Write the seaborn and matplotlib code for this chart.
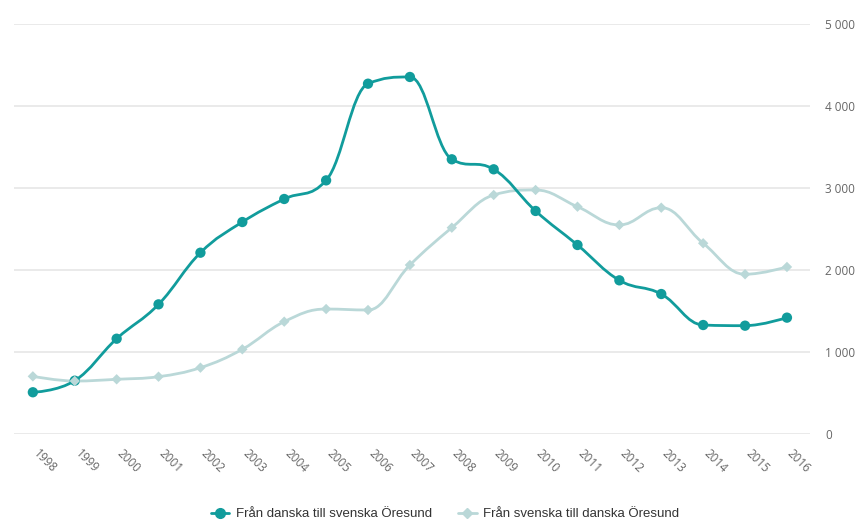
import numpy as np
import pandas as pd
import matplotlib
matplotlib.use("Agg")
import matplotlib.pyplot as plt
import matplotlib.transforms as mtransforms
import seaborn as sns
from matplotlib.path import Path
from matplotlib.patches import PathPatch
from matplotlib.lines import Line2D

years = list(range(1998, 2017))
dk_to_se = [509, 650, 1162, 1581, 2211, 2585, 2866, 3093, 4272, 4354,
            3350, 3228, 2720, 2305, 1874, 1707, 1329, 1321, 1419]
se_to_dk = [703, 646, 667, 699, 809, 1033, 1370, 1524, 1512, 2061,
            2516, 2915, 2976, 2772, 2549, 2760, 2326, 1948, 2037]
series_names = ["Från danska till svenska Öresund", "Från svenska till danska Öresund"]
yticks = [0, 1000, 2000, 3000, 4000, 5000]

TEAL = "#119c9c"
LIGHT = "#bad8d8"

sns.set_theme(style="white")
plt.rcParams['font.family'] = ['Open Sans', 'DejaVu Sans']

df = pd.DataFrame({"year": years * 2,
                   "value": dk_to_se + se_to_dk,
                   "series": [series_names[0]] * len(years) + [series_names[1]] * len(years)})

fig = plt.figure(figsize=(8.62, 5.26), dpi=100)
ax = fig.add_axes([14 / 862, 1 - 434 / 526, (810 - 14) / 862, (434 - 24) / 526])


def spline_path(xs, ys, smoothing=1.5):
    xs = np.asarray(xs, float)
    ys = np.asarray(ys, float)
    n = len(xs)
    denom = smoothing + 1
    rc = [None] * n
    lc = [None] * n
    for i in range(1, n - 1):
        px, py = xs[i], ys[i]
        lx, ly = xs[i - 1], ys[i - 1]
        nx, ny = xs[i + 1], ys[i + 1]
        lcx = (smoothing * px + lx) / denom
        lcy = (smoothing * py + ly) / denom
        rcx = (smoothing * px + nx) / denom
        rcy = (smoothing * py + ny) / denom
        corr = 0.0
        if rcx != lcx:
            corr = (rcy - lcy) * (rcx - px) / (rcx - lcx) + py - rcy
        lcy += corr
        rcy += corr
        if lcy > ly and lcy > py:
            lcy = max(ly, py); rcy = 2 * py - lcy
        elif lcy < ly and lcy < py:
            lcy = min(ly, py); rcy = 2 * py - lcy
        if rcy > ny and rcy > py:
            rcy = max(ny, py); lcy = 2 * py - rcy
        elif rcy < ny and rcy < py:
            rcy = min(ny, py); lcy = 2 * py - rcy
        lc[i] = (lcx, lcy)
        rc[i] = (rcx, rcy)
    verts = [(xs[0], ys[0])]
    codes = [Path.MOVETO]
    for i in range(1, n):
        c1 = rc[i - 1] if rc[i - 1] is not None else (xs[i - 1], ys[i - 1])
        c2 = lc[i] if lc[i] is not None else (xs[i], ys[i])
        verts += [c1, c2, (xs[i], ys[i])]
        codes += [Path.CURVE4] * 3
    return Path(verts, codes)


# grid lines
for t in yticks:
    ax.axhline(t, color="#e6e6e6", lw=1.2, zorder=0)

# smooth lines
for name, color, z in [(series_names[1], LIGHT, 2), (series_names[0], TEAL, 3)]:
    sub = df[df.series == name]
    p = spline_path(sub.year.values, sub.value.values)
    ax.add_patch(PathPatch(p, facecolor="none", edgecolor=color, lw=2, zorder=z,
                           capstyle="round", joinstyle="round"))

# markers via seaborn
sns.scatterplot(data=df, x="year", y="value", hue="series", style="series",
                palette={series_names[0]: TEAL, series_names[1]: LIGHT},
                markers={series_names[0]: "o", series_names[1]: "D"},
                size="series", sizes={series_names[0]: 55, series_names[1]: 28},
                edgecolor="none", linewidth=0, legend=False, ax=ax, zorder=4)

ax.set_xlim(1997.55, 2016.55)
ax.set_ylim(0, 5000)
for s in ax.spines.values():
    s.set_visible(False)
ax.set_xlabel("")
ax.set_ylabel("")

ax.yaxis.tick_right()
ax.set_yticks(yticks)
ax.set_yticklabels([f"{v:,}".replace(",", " ") for v in yticks])
ax.tick_params(axis="y", length=0, pad=11, labelsize=8.5, labelcolor="#666666")

ax.set_xticks(years)
ax.set_xticklabels([str(y) for y in years], rotation=-45, ha="left",
                   rotation_mode="anchor")
ax.tick_params(axis="x", length=0, pad=9, labelsize=8.5, labelcolor="#666666")
offset = mtransforms.ScaledTranslation(7 / 100, 0, fig.dpi_scale_trans)
for lab in ax.get_xticklabels():
    lab.set_transform(lab.get_transform() + offset)

handles = [Line2D([0], [0], color=TEAL, lw=2, marker="o", markersize=7),
           Line2D([0], [0], color=LIGHT, lw=2, marker="D", markersize=5)]
fig.legend(handles, series_names, loc="center", bbox_to_anchor=(445 / 862, 12 / 526),
           ncol=2, frameon=False, handlelength=1.4, columnspacing=2.0, handletextpad=0.5,
           prop={"family": ["Liberation Sans", "DejaVu Sans"], "size": 9.5})
for t in fig.legends[0].get_texts():
    t.set_color("#333333")

fig.savefig("out.png", dpi=100)
